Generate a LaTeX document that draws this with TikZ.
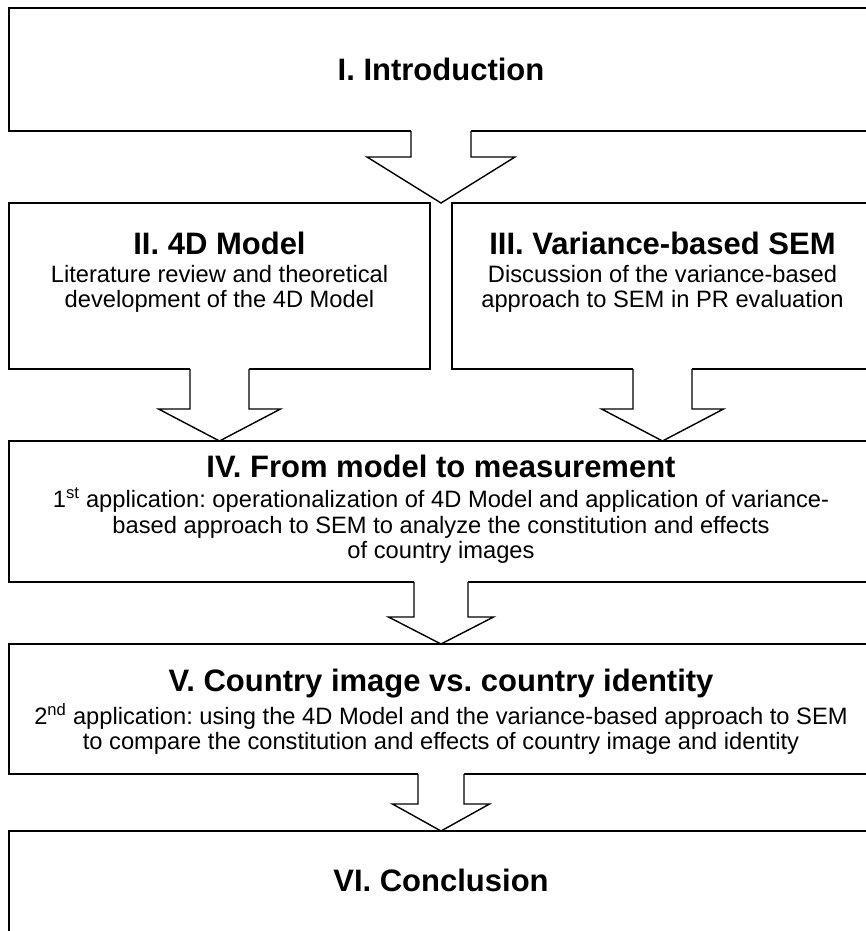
\documentclass[tikz,border=0pt]{standalone}
\usepackage{fontspec}
\setmainfont{Liberation Sans}
\usetikzlibrary{calc}
\frenchspacing

% block arrow: #1 start, #2 tip, #3 shaft half width, #4 head half width, #5 head length
\newcommand\blockarrow[5]{%
  \fill[white] ($(#1)+(-#3,-2)$) -- ($(#2)+(-#3,-#5)$) -- ($(#2)+(-#4,-#5)$) -- (#2)
    -- ($(#2)+(#4,-#5)$) -- ($(#2)+(#3,-#5)$) -- ($(#1)+(#3,-2)$) -- cycle;
  \draw[arrowline] ($(#1)+(-#3,0)$) -- ($(#2)+(-#3,-#5)$) -- ($(#2)+(-#4,-#5)$) -- (#2)
    -- ($(#2)+(#4,-#5)$) -- ($(#2)+(#3,-#5)$) -- ($(#1)+(#3,0)$);
}

\begin{document}
\begin{tikzpicture}[x=1pt,y=-1pt,
  box/.style={draw=black, line width=1.4pt, fill=white, rectangle, inner sep=0pt, outer sep=0pt},
  arrowline/.style={draw=black, line width=1.4pt, line join=miter},
  head/.style={font=\bfseries\fontsize{31}{34}\selectfont, inner sep=0pt, anchor=center},
  body/.style={font=\fontsize{23.7}{25.5}\selectfont, align=center, inner sep=0pt, anchor=center}]
\useasboundingbox (0,0) rectangle (866,931);
\clip (0,0) rectangle (866,931);
\fill[white] (0,0) rectangle (866,931);

% chapter boxes (the full-width ones run past the right edge)
\node[box, minimum width=864, minimum height=123] (intro) at (441,69.5) {};
\node[box, minimum width=421, minimum height=166] (model) at (219.5,286) {};
\node[box, minimum width=421, minimum height=166] (sem) at (662.5,286) {};
\node[box, minimum width=864, minimum height=141] (measure) at (441,511.5) {};
\node[box, minimum width=864, minimum height=130] (identity) at (441,709) {};
\node[box, minimum width=864, minimum height=130] (conclusion) at (441,896) {};

% texts
\node[head] (tintro) at (441,69) {I. Introduction};
\node[head] (tmodel) at (219.5,243) {II. 4D Model};
\node[body] (bmodel) at (219.5,289) {Literature review and theoretical\\development of the 4D Model};
\node[head] (tsem) at (662.5,243) {III. Variance-based SEM};
\node[body] (bsem) at (662.5,289) {Discussion of the variance-based\\approach to SEM in PR evaluation};
\node[head] (tmeasure) at (441,466) {IV. From model to measurement};
\node[body] (bmeasure) at (441,526) {1\textsuperscript{st} application: operationalization of 4D Model and application of variance-\\based approach to SEM to analyze the constitution and effects\\of country images};
\node[head] (tidentity) at (441,684) {V. Country image vs. country identity};
\node[body] (bidentity) at (441,729) {2\textsuperscript{nd} application: using the 4D Model and the variance-based approach to SEM\\to compare the constitution and effects of country image and identity};
\node[head] (tconclusion) at (441,880) {VI. Conclusion};

% arrow tips
\coordinate (tip1) at (intro.south |- model.north);
\coordinate (tip2) at (model.south |- measure.north);
\coordinate (tip3) at (sem.south |- measure.north);

% block arrows between chapters
\blockarrow{intro.south}{tip1}{30}{74}{46}
\blockarrow{model.south}{tip2}{29.5}{61}{32}
\blockarrow{sem.south}{tip3}{29.5}{61}{32}
\blockarrow{measure.south}{identity.north}{27}{52.5}{27}
\blockarrow{identity.south}{conclusion.north}{23}{48.5}{27}
\end{tikzpicture}
\end{document}
